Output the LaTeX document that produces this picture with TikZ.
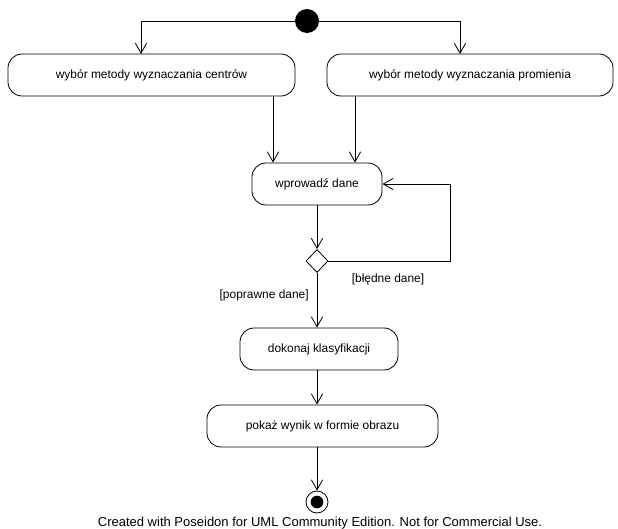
\documentclass[tikz,border=0pt]{standalone}
\usepackage{fontspec}
\setmainfont{Liberation Sans}
\usetikzlibrary{arrows.meta,shapes.geometric}
\begin{document}
\begin{tikzpicture}[x=0.03cm,y=-0.03cm,line width=0.7pt,
  act/.style={rectangle,rounded corners=0.42cm,draw,minimum height=1.26cm,font=\fontsize{10.2}{12}\selectfont},
  lbl/.style={font=\fontsize{10.2}{12}\selectfont},
  flow/.style={-{Straight Barb[length=0.3cm,width=0.34cm]}}]
\useasboundingbox (0,0) rectangle (618,528);
\node[circle,fill,minimum size=0.72cm,inner sep=0] (start) at (307,21) {};
\node[act,minimum width=8.61cm] (centra) at (151.5,75) {wybór metody wyznaczania centrów};
\node[act,minimum width=8.58cm] (promien) at (470,75) {wybór metody wyznaczania promienia};
\node[act,minimum width=3.9cm] (dane) at (317,184) {wprowadź dane};
\node[diamond,draw,inner sep=0,minimum width=0.66cm,minimum height=0.69cm] (dec) at (317,261) {};
\node[act,minimum width=4.74cm] (klas) at (319,349) {dokonaj klasyfikacji};
\node[act,minimum width=6.93cm] (wynik) at (322.5,426) {pokaż wynik w formie obrazu};
\node[circle,draw,minimum size=0.66cm,inner sep=0] (stop) at (317,502) {};
\node[circle,fill,minimum size=0.38cm,inner sep=0] (stopin) at (stop) {};
\node[lbl] (zle) at (388,279) {[błędne dane]};
\node[lbl,anchor=east] (dobre) at (313,295) {[poprawne dane]};
\node[font=\fontsize{11.1}{13}\selectfont] (note) at (320,523) {Created with Poseidon for UML Community Edition. Not for Commercial Use.};
\coordinate (c1) at (141,54);
\coordinate (c2) at (460,54);
\coordinate (a1) at (273,96);
\coordinate (a2) at (355,96);
\draw[flow] (start) -| (c1);
\draw[flow] (start) -| (c2);
\draw[flow] (a1) -- (a1 |- dane.north);
\draw[flow] (a2) -- (a2 |- dane.north);
\draw[flow] (dane.south -| dec) -- (dec);
\draw[flow] (dec.east) -- ++(122,0) |- (dane.east);
\draw[flow] (dec.south) -- (dec.south |- klas.north);
\draw[flow] (klas.south -| dec) -- (dec |- wynik.north);
\draw[flow] (stop |- wynik.south) -- (stop);
\end{tikzpicture}
\end{document}
